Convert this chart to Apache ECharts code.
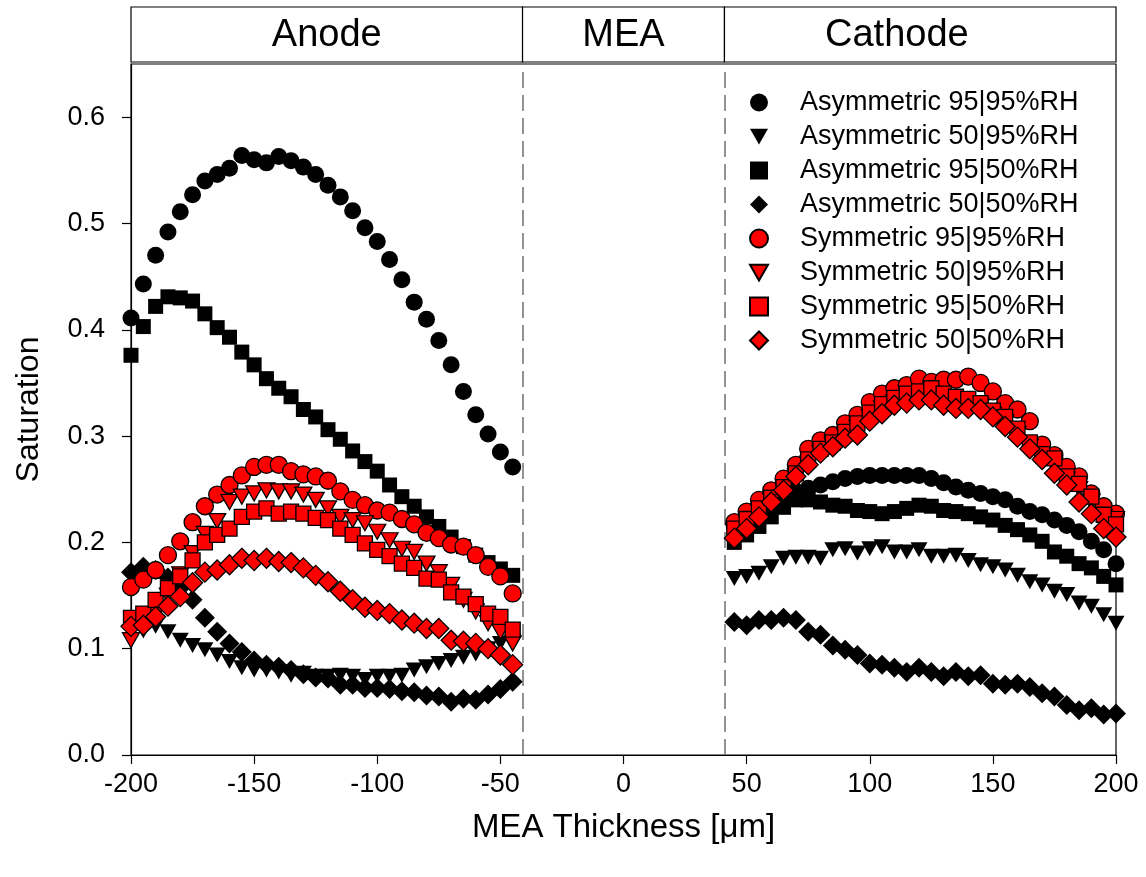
<!DOCTYPE html>
<html>
<head>
<meta charset="utf-8">
<script src="https://cdn.jsdelivr.net/npm/echarts@6/dist/echarts.min.js"></script>
<style>
html,body{margin:0;padding:0;background:#fff;}
#chart{width:1146px;height:877px;}
</style>
</head>
<body>
<div id="chart"></div>
<script>
// ---- data ----
const xAnode = [-200,-195,-190,-185,-180,-175,-170,-165,-160,-155,-150,-145,-140,-135,-130,-125,-120,-115,-110,-105,-100,-95,-90,-85,-80,-75,-70,-65,-60,-55,-50,-45];
const xCathode = [45,50,55,60,65,70,75,80,85,90,95,100,105,110,115,120,125,130,135,140,145,150,155,160,165,170,175,180,185,190,195,200];

const asym9595A = [0.411,0.443,0.470,0.492,0.511,0.527,0.540,0.546,0.552,0.564,0.560,0.557,0.563,0.559,0.553,0.546,0.536,0.525,0.512,0.496,0.483,0.466,0.447,0.426,0.410,0.390,0.367,0.342,0.320,0.302,0.285,0.271];
const asym5095A = [0.128,0.125,0.121,0.116,0.108,0.103,0.099,0.094,0.088,0.082,0.080,0.080,0.078,0.075,0.077,0.074,0.074,0.075,0.074,0.071,0.074,0.074,0.075,0.080,0.083,0.086,0.089,0.092,0.095,0.100,0.105,0.107];
const asym9550A = [0.376,0.403,0.422,0.431,0.430,0.427,0.415,0.402,0.393,0.379,0.367,0.354,0.345,0.337,0.325,0.318,0.306,0.297,0.286,0.276,0.267,0.254,0.243,0.234,0.224,0.215,0.205,0.196,0.188,0.181,0.175,0.169];
const asym5050A = [0.172,0.177,0.174,0.167,0.157,0.146,0.129,0.116,0.105,0.097,0.089,0.085,0.083,0.080,0.076,0.073,0.072,0.066,0.066,0.063,0.063,0.062,0.060,0.059,0.056,0.055,0.050,0.053,0.052,0.057,0.062,0.069];
const sym9595A = [0.158,0.165,0.174,0.188,0.201,0.219,0.234,0.245,0.254,0.263,0.271,0.273,0.273,0.267,0.264,0.262,0.258,0.248,0.240,0.235,0.230,0.228,0.222,0.217,0.209,0.204,0.198,0.196,0.188,0.177,0.168,0.152];
const sym5095A = [0.108,0.118,0.132,0.150,0.170,0.190,0.208,0.220,0.238,0.243,0.246,0.249,0.248,0.248,0.245,0.240,0.232,0.224,0.221,0.218,0.210,0.202,0.194,0.191,0.180,0.172,0.160,0.146,0.135,0.124,0.116,0.105];
const sym9550A = [0.129,0.133,0.146,0.157,0.168,0.183,0.200,0.207,0.213,0.224,0.229,0.232,0.227,0.229,0.227,0.223,0.221,0.213,0.207,0.199,0.193,0.187,0.180,0.176,0.166,0.165,0.153,0.149,0.142,0.133,0.130,0.118];
const sym5050A = [0.121,0.122,0.130,0.140,0.149,0.162,0.172,0.174,0.179,0.185,0.183,0.185,0.182,0.181,0.176,0.169,0.163,0.154,0.146,0.139,0.136,0.133,0.127,0.124,0.119,0.119,0.108,0.107,0.105,0.100,0.094,0.085];

const asym9595C = [0.215,0.222,0.230,0.237,0.243,0.248,0.251,0.254,0.257,0.260,0.262,0.263,0.263,0.263,0.263,0.263,0.260,0.256,0.252,0.249,0.246,0.243,0.240,0.234,0.229,0.226,0.221,0.216,0.210,0.201,0.193,0.180];
const asym5095C = [0.166,0.168,0.171,0.177,0.185,0.186,0.186,0.185,0.193,0.194,0.190,0.194,0.196,0.191,0.191,0.193,0.187,0.187,0.188,0.183,0.179,0.177,0.174,0.169,0.163,0.160,0.154,0.151,0.143,0.140,0.132,0.124];
const asym9550C = [0.200,0.207,0.215,0.224,0.233,0.240,0.240,0.238,0.235,0.234,0.230,0.229,0.227,0.229,0.232,0.235,0.234,0.230,0.229,0.227,0.224,0.221,0.216,0.212,0.207,0.201,0.191,0.187,0.180,0.176,0.168,0.160];
const asym5050C = [0.125,0.122,0.127,0.127,0.129,0.127,0.116,0.113,0.103,0.099,0.094,0.086,0.085,0.082,0.078,0.082,0.078,0.074,0.078,0.074,0.075,0.067,0.066,0.067,0.064,0.058,0.055,0.047,0.042,0.044,0.038,0.039];
const sym9595C = [0.219,0.229,0.240,0.249,0.260,0.273,0.288,0.296,0.301,0.312,0.320,0.332,0.340,0.345,0.348,0.354,0.351,0.353,0.353,0.356,0.350,0.342,0.331,0.325,0.314,0.292,0.282,0.271,0.262,0.246,0.234,0.227];
const sym5095C = [0.210,0.219,0.229,0.239,0.249,0.262,0.274,0.284,0.291,0.300,0.308,0.318,0.326,0.332,0.336,0.338,0.340,0.336,0.333,0.331,0.327,0.320,0.313,0.302,0.290,0.279,0.272,0.259,0.250,0.238,0.224,0.222];
const sym9550C = [0.213,0.222,0.232,0.242,0.252,0.265,0.278,0.288,0.294,0.304,0.312,0.322,0.330,0.336,0.340,0.342,0.345,0.340,0.337,0.335,0.331,0.324,0.318,0.307,0.294,0.283,0.279,0.262,0.255,0.243,0.226,0.217];
const sym5050C = [0.204,0.213,0.224,0.238,0.249,0.262,0.273,0.284,0.290,0.298,0.301,0.314,0.321,0.329,0.331,0.334,0.334,0.329,0.326,0.326,0.325,0.318,0.309,0.299,0.288,0.278,0.265,0.254,0.238,0.227,0.213,0.205];

const seriesNames = ['Asymmetric 95|95%RH','Asymmetric 50|95%RH','Asymmetric 95|50%RH','Asymmetric 50|50%RH','Symmetric 95|95%RH','Symmetric 50|95%RH','Symmetric 95|50%RH','Symmetric 50|50%RH'];
const xTicks = [-200,-150,-100,-50,0,50,100,150,200];
const yTicks = [0,0.1,0.2,0.3,0.4,0.5,0.6];
const regionNames = ['Anode','MEA','Cathode'];
const regionBounds = [-200,-41,41,200];
const cathodeLabelX = 111;

// ---- chart ----
const FONT = '"Liberation Sans", Arial, sans-serif';
const chart = echarts.init(document.getElementById('chart'), null, {renderer:'canvas'});

function pairs(xa, ya, xc, yc){
  const out = [];
  xa.forEach((x,i)=>out.push([x, ya[i]]));
  xc.forEach((x,i)=>out.push([x, yc[i]]));
  return out;
}
const dataSets = [
  pairs(xAnode, asym9595A, xCathode, asym9595C),
  pairs(xAnode, asym5095A, xCathode, asym5095C),
  pairs(xAnode, asym9550A, xCathode, asym9550C),
  pairs(xAnode, asym5050A, xCathode, asym5050C),
  pairs(xAnode, sym9595A, xCathode, sym9595C),
  pairs(xAnode, sym5095A, xCathode, sym5095C),
  pairs(xAnode, sym9550A, xCathode, sym9550C),
  pairs(xAnode, sym5050A, xCathode, sym5050C)
];
const DOWN_TRI = 'path://M0,0 L16,0 L8,14 Z';
const symbols = ['circle','triangle','rect','diamond'];
const sizes = [17, 16, 15, 20];
const series = dataSets.map((d,i)=>{
  const k = i % 4;
  const red = i >= 4;
  const s = {
    name: seriesNames[i],
    type: 'scatter',
    data: d,
    symbol: symbols[k],
    symbolSize: k===1 ? [17,15] : sizes[k],
    symbolRotate: k===1 ? 180 : 0,
    itemStyle: red ? {color:'#ff0000', borderColor:'#000', borderWidth:1.3, opacity:1}
                   : {color:'#000000', borderColor:'#000', borderWidth:0, opacity:1},
    emphasis: {disabled:true},
    z: 2 + i
  };
  if (i === 0) {
    s.markLine = {
      silent: true,
      symbol: ['none','none'],
      label: {show:false},
      lineStyle: {color:'#707070', width:1.5, type:[16,7]},
      data: [{xAxis: regionBounds[1]}, {xAxis: regionBounds[2]}]
    };
  }
  return s;
});

const legendData = seriesNames.map((n,i)=>{
  const k = i % 4;
  if (k === 1) return {name:n, icon: DOWN_TRI};
  return {name:n};
});

const option = {
  animation: false,
  backgroundColor: '#ffffff',
  grid: {left:131, right:30, top:64, bottom:122, show:true, borderColor:'#000', borderWidth:1.2, backgroundColor:'transparent'},
  xAxis: {
    type:'value', min:-200, max:200, interval:50,
    name:'MEA Thickness [\u03bcm]', nameLocation:'middle', nameGap:56,
    nameTextStyle:{fontFamily:FONT, fontSize:33, color:'#000'},
    axisLine:{show:true, onZero:false, lineStyle:{color:'#000', width:1.2}},
    axisTick:{show:true, inside:false, length:9, lineStyle:{color:'#000', width:1.2}, customValues: xTicks},
    axisLabel:{fontFamily:FONT, fontSize:27, color:'#000', margin:16, customValues: xTicks, formatter: v=>String(v)},
    splitLine:{show:false}
  },
  yAxis: {
    type:'value', min:0, max:0.65, interval:0.1,
    name:'Saturation', nameLocation:'middle', nameGap:86, nameRotate:90,
    nameTextStyle:{fontFamily:FONT, fontSize:32, color:'#000'},
    axisLine:{show:true, onZero:false, lineStyle:{color:'#000', width:1.2}},
    axisTick:{show:true, inside:false, length:9, lineStyle:{color:'#000', width:1.2}, customValues: yTicks},
    axisLabel:{fontFamily:FONT, fontSize:27, color:'#000', margin:26, customValues: yTicks, formatter: v=>Number(v).toFixed(1)},
    splitLine:{show:false}
  },
  legend: {
    orient:'vertical', left:744, top:84,
    itemWidth:18, itemHeight:18, itemGap:7,
    selectedMode:false,
    symbolRotate: 0,
    data: legendData,
    textStyle:{fontFamily:FONT, fontSize:27, color:'#000', lineHeight:26, padding:[0,0,0,27]}
  },
  series: series
};
chart.setOption(option);

// header boxes above the plot, positioned from the x scale
const hdrPx = regionBounds.map(v=>chart.convertToPixel({xAxisIndex:0}, v));
const hdrTop = 7, hdrH = 55;
const graphics = [];
for (let i=0;i<3;i++){
  graphics.push({type:'rect', shape:{x:hdrPx[i], y:hdrTop, width:hdrPx[i+1]-hdrPx[i], height:hdrH},
    style:{fill:'#fff', stroke:'#000', lineWidth:1.2}, silent:true});
}
const hdrLabelX = [ (hdrPx[0]+hdrPx[1])/2, (hdrPx[1]+hdrPx[2])/2, chart.convertToPixel({xAxisIndex:0}, cathodeLabelX) ];
for (let i=0;i<3;i++){
  graphics.push({type:'text', x:hdrLabelX[i], y:hdrTop+hdrH/2+1,
    style:{text:regionNames[i], font:'38px '+FONT, fill:'#000', textAlign:'center', textVerticalAlign:'middle'}, silent:true});
}
chart.setOption({graphic: graphics});
</script>
</body>
</html>
